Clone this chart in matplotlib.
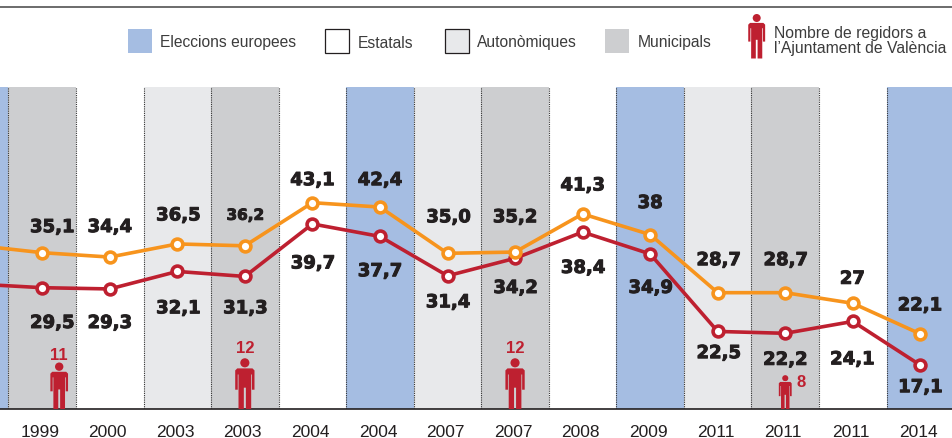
import matplotlib
matplotlib.use('Agg')
import matplotlib.pyplot as plt
import matplotlib.patheffects as pe
from matplotlib.patches import Rectangle, PathPatch
from matplotlib.path import Path
from matplotlib.transforms import Affine2D, ScaledTranslation

# the first point sits just outside the left edge of the crop
years = ['1999', '1999', '2000', '2003', '2003', '2004', '2004', '2007', '2007', '2008', '2009', '2011', '2011', '2011', '2014']
kinds = ['eu', 'mun', 'est', 'aut', 'mun', 'est', 'eu', 'aut', 'mun', 'est', 'eu', 'aut', 'mun', 'est', 'eu']
orange = [36.3, 35.1, 34.4, 36.5, 36.2, 43.1, 42.4, 35.0, 35.2, 41.3, 38, 28.7, 28.7, 27, 22.1]
red = [30.1, 29.5, 29.3, 32.1, 31.3, 39.7, 37.7, 31.4, 34.2, 38.4, 34.9, 22.5, 22.2, 24.1, 17.1]
orange_labels = [None, '35,1', '34,4', '36,5', '36,2', '43,1', '42,4', '35,0', '35,2', '41,3', '38', '28,7', '28,7', '27', '22,1']
red_labels = [None, '29,5', '29,3', '32,1', '31,3', '39,7', '37,7', '31,4', '34,2', '38,4', '34,9', '22,5', '22,2', '24,1', '17,1']
council_idx = [1, 4, 8, 12]
council = [11, 12, 12, 8]

# label nudges in pixels
orange_dx = [0, 10, 0, 1, 0.5, 0, 0, 1, 0, 0, 0, 1, 0.5, -0.5, -0.5]
orange_dy = [0, 27, 31.5, 30, 32, 24, 28.4, 37.5, 36.3, 30, 33, 34, 34, 26, 30]
red_dx = [0, 10, 0, 1, 0.5, 0.5, 0, 0.5, 0.5, 0.5, 0.5, 1, 0, -0.5, 0]
red_dy = [0, -33.8, -32.6, -35.4, -30.4, -38, -33.3, -25, -28.2, -34.4, -32.5, -20.2, -25, -36.4, -20.5]
label_drop = 1.5  # va='center' counts the comma descent
icon_dx = [17, 0, 0, 0]
count_dx = [17, 0, 0, 15.5]
count_dy = [55, 62, 62, 28]

band_colors = {'eu': '#A5BDE2', 'est': 'white', 'aut': '#E8E9EB', 'mun': '#CDCED0'}
ORANGE = '#F7941D'
RED = '#BE2030'
DARK = '#231F20'
GREY_TXT = '#3C3C3C'
W, H = 952, 439
px_per_councillor = 4.23
YMIN, YMAX = 10.09, 61.69

plt.rcParams['font.family'] = ['Liberation Sans', 'DejaVu Sans']

fig = plt.figure(figsize=(W / 100, H / 100), dpi=100)
ax = fig.add_axes([0, (H - 410) / H, 1, (410 - 87.5) / H])
ax.set_xlim(-42.2 / 67.55, (W - 42.2) / 67.55)
ax.set_ylim(YMIN, YMAX)

over = fig.add_axes([0, 0, 1, 1])
over.set_xlim(0, W)
over.set_ylim(H, 0)
over.axis('off')
over.patch.set_alpha(0)


def person_path():
    body = [(-0.15, 0.80), (0.15, 0.80), (0.19, 0.76), (0.19, 0.38), (0.14, 0.38), (0.14, 0.68),
            (0.125, 0.68), (0.125, 0), (0.02, 0), (0.02, 0.42), (-0.02, 0.42), (-0.02, 0),
            (-0.125, 0), (-0.125, 0.68), (-0.14, 0.68), (-0.14, 0.38), (-0.19, 0.38), (-0.19, 0.76),
            (-0.15, 0.80)]
    head = Path.circle((0, 0.91), 0.09)
    return Path.make_compound_path(Path(body, closed=True), head)


def draw_person(x_disp, y_disp, height, zorder=6):
    tr = Affine2D().scale(height).translate(x_disp, y_disp)
    fig.add_artist(PathPatch(person_path(), transform=tr, facecolor=RED, edgecolor='none', zorder=zorder))


x = [i - 1 for i in range(len(years))]

# background bands
for i, k in enumerate(kinds):
    ax.axvspan(x[i] - 0.5, x[i] + 0.5, color=band_colors[k], lw=0, zorder=0)
    if i > 0:
        ax.axvline(x[i] - 0.5, color='#333333', lw=0.8, ls=(0, (1, 1)), zorder=1)

ax.plot(x, red, color=RED, lw=2.6, marker='o', ms=7.8, mfc='white', mec=RED, mew=2.6, zorder=3)
ax.plot(x, orange, color=ORANGE, lw=2.6, marker='o', ms=7.8, mfc='white', mec=ORANGE, mew=2.6, zorder=4)

heavy = [pe.withStroke(linewidth=0.7, foreground=DARK)]
for i in range(1, len(x)):
    fs = 11 if orange_labels[i] == '36,2' else 13
    ax.annotate(orange_labels[i], (x[i], orange[i]), xytext=(orange_dx[i], orange_dy[i] - label_drop), textcoords='offset pixels',
                ha='center', va='center', fontsize=fs, fontweight='bold', family='DejaVu Sans', color=DARK,
                path_effects=heavy, zorder=5)
    ax.annotate(red_labels[i], (x[i], red[i]), xytext=(red_dx[i], red_dy[i] - label_drop), textcoords='offset pixels',
                ha='center', va='center', fontsize=13, fontweight='bold', family='DejaVu Sans', color=DARK,
                path_effects=heavy, zorder=5)

for j, idx in enumerate(council_idx):
    x_d, y_d = ax.transData.transform((x[idx], YMIN))
    draw_person(x_d + icon_dx[j], y_d, council[j] * px_per_councillor)
    ax.annotate(str(council[j]), (x[idx], YMIN), xytext=(count_dx[j], count_dy[j] - 0.5), textcoords='offset pixels',
                ha='center', va='center', fontsize=12, fontweight='bold', color=RED, zorder=6)

ax.set_xticks(x[1:])
ax.set_xticklabels(years[1:], fontsize=12.5, color=DARK)
ax.tick_params(axis='x', length=0, pad=10.5)
# the year labels sit a little left of the points
shift = ScaledTranslation(-2 / 100, 0, fig.dpi_scale_trans)
for lab in ax.get_xticklabels():
    lab.set_transform(lab.get_transform() + shift)
ax.set_yticks([])
for s in ['top', 'left', 'right']:
    ax.spines[s].set_visible(False)
ax.spines['bottom'].set_color(DARK)
ax.spines['bottom'].set_linewidth(1.2)

# top rule and legend
over.plot([0, W], [7.5, 7.5], color='#6B6B6B', lw=1.4)
legend_items = [(128, 'Eleccions europees', 'eu', 160), (325, 'Estatals', 'est', 358),
                (445, 'Autonòmiques', 'aut', 477), (605, 'Municipals', 'mun', 638)]
for sx, txt, k, tx in legend_items:
    edge = DARK if k in ('est', 'aut') else 'none'
    over.add_patch(Rectangle((sx, 30), 24, 24, facecolor=band_colors[k], edgecolor=edge, lw=0.9))
    over.text(tx, 43, txt, fontsize=11.25, color=GREY_TXT, va='center', ha='left')
over.text(774, 33.5, 'Nombre de regidors a', fontsize=11.3, color=GREY_TXT, va='center', ha='left')
over.text(774, 49, 'l’Ajuntament de València', fontsize=11.3, color=GREY_TXT, va='center', ha='left')
draw_person(756.7, H - 59.5, 44.5)

fig.savefig('out.png', dpi=100)
